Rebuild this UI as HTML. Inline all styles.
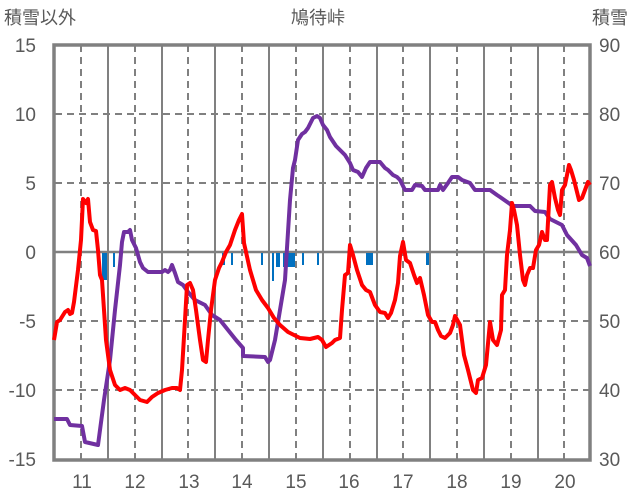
<!DOCTYPE html><html><head><meta charset="utf-8"><style>body{margin:0;background:#fff}svg{display:block}text{font-family:"Liberation Sans","Noto Sans CJK JP",sans-serif;fill:#595959}</style></head><body>
<svg width="636" height="501" viewBox="0 0 636 501">
<g stroke="#808080" stroke-width="2" fill="none">
<g stroke-dasharray="7,5">
<line x1="55" y1="114" x2="590" y2="114"/><line x1="55" y1="183" x2="590" y2="183"/><line x1="55" y1="321" x2="590" y2="321"/><line x1="55" y1="390" x2="590" y2="390"/>
<line x1="81" y1="45" x2="81" y2="459"/><line x1="135" y1="45" x2="135" y2="459"/><line x1="188" y1="45" x2="188" y2="459"/><line x1="242" y1="45" x2="242" y2="459"/><line x1="296" y1="45" x2="296" y2="459"/><line x1="350" y1="45" x2="350" y2="459"/><line x1="403" y1="45" x2="403" y2="459"/><line x1="457" y1="45" x2="457" y2="459"/><line x1="511" y1="45" x2="511" y2="459"/><line x1="564" y1="45" x2="564" y2="459"/>
</g>
<line x1="108" y1="45" x2="108" y2="459"/><line x1="162" y1="45" x2="162" y2="459"/><line x1="215" y1="45" x2="215" y2="459"/><line x1="269" y1="45" x2="269" y2="459"/><line x1="323" y1="45" x2="323" y2="459"/><line x1="377" y1="45" x2="377" y2="459"/><line x1="430" y1="45" x2="430" y2="459"/><line x1="484" y1="45" x2="484" y2="459"/><line x1="538" y1="45" x2="538" y2="459"/>
<line x1="55" y1="252" x2="590" y2="252" stroke-width="2.5"/>
<rect x="54" y="45" width="536" height="415" stroke-width="3.5"/>
</g>
<g fill="#0070c0">
<rect x="102" y="253" width="5" height="27"/><rect x="113" y="253" width="2" height="14"/><rect x="222" y="253" width="3" height="12"/><rect x="231" y="253" width="2" height="12"/><rect x="261" y="253" width="2" height="12"/><rect x="272" y="253" width="2" height="28"/><rect x="276" y="253" width="4" height="14"/><rect x="283" y="253" width="12" height="14"/><rect x="302" y="253" width="2" height="12"/><rect x="317" y="253" width="2" height="12"/><rect x="366" y="253" width="7" height="12"/><rect x="426" y="253" width="3" height="12"/>
</g>
<polyline fill="none" stroke="#7030a0" stroke-width="4" stroke-linejoin="round" points="54,419 67,419 70,425 82,426 85,442 98,445 100,430 104,400 110,360 115,310 120,265 122,242 124,232 128,232 130,230 132,240 136,248 138,255 140,262 143,268 148,272 155,272 162,272 165,270 168,272 170,270 172,265 175,273 178,282 183,285 188,292 195,300 205,305 212,315 220,320 228,330 236,340 243,348 243,356 265,357 268,362 270,360 275,340 280,310 285,280 290,200 293,168 295,160 298,140 302,134 305,132 308,128 313,118 317,116 320,118 323,125 327,130 330,137 336,146 340,150 345,155 350,163 353,170 358,172 362,177 366,168 370,162 380,162 385,168 388,170 393,175 397,177 400,180 405,190 412,190 415,185 422,186 425,190 438,190 440,185 443,190 448,183 452,177 458,177 462,180 470,183 475,190 485,190 490,190 497,195 500,197 510,204 512,206 530,206 535,211 545,212 550,219 562,225 565,231 567,235 576,245 582,255 587,258 590,266"/>
<polyline fill="none" stroke="#ff0000" stroke-width="4" stroke-linejoin="round" points="54,340 57,322 60,320 65,312 68,310 70,314 72,313 74,302 78,270 81,240 83,199 86,203 88,199 90,222 93,230 96,231 98,250 100,275 102,280 106,340 110,370 115,385 120,390 125,388 130,390 135,395 140,400 147,402 152,397 158,393 165,390 172,388 177,388 180,390 182,370 185,320 187,285 190,283 193,290 196,310 200,340 203,360 206,362 208,340 211,310 215,280 219,268 222,262 226,252 230,245 235,230 239,220 242,214 244,243 250,270 256,290 262,300 268,308 274,318 280,325 288,332 300,338 310,339 318,337 322,340 326,347 332,343 335,340 340,338 342,310 345,275 348,273 350,245 353,255 357,270 362,285 366,290 370,292 375,305 380,312 385,313 388,318 391,313 395,300 398,283 400,256 403,242 406,260 410,263 414,275 417,283 420,278 424,295 428,315 432,322 435,322 438,330 441,336 445,338 450,333 453,325 455,316 460,325 464,355 468,370 473,390 476,393 478,380 482,378 486,365 490,322 493,340 497,345 501,330 502,295 505,290 507,255 510,230 512,203 514,210 517,225 520,255 523,280 525,285 527,275 530,268 533,268 536,250 539,245 542,232 545,240 547,240 550,185 552,182 555,198 558,210 560,215 562,190 565,185 567,175 569,165 571,170 574,180 577,192 579,200 582,198 585,190 588,182 590,185"/>
<g font-size="19" text-anchor="end">
<text x="36" y="52">15</text><text x="36" y="121">10</text><text x="36" y="190">5</text><text x="36" y="259">0</text><text x="36" y="328">-5</text><text x="36" y="397">-10</text><text x="36" y="466">-15</text>
</g>
<g font-size="19">
<text x="599" y="52">90</text><text x="599" y="121">80</text><text x="599" y="190">70</text><text x="599" y="259">60</text><text x="599" y="328">50</text><text x="599" y="397">40</text><text x="599" y="466">30</text>
</g>
<g font-size="19" text-anchor="middle">
<text x="82" y="488">11</text><text x="135" y="488">12</text><text x="189" y="488">13</text><text x="242" y="488">14</text><text x="296" y="488">15</text><text x="349" y="488">16</text><text x="403" y="488">17</text><text x="457" y="488">18</text><text x="511" y="488">19</text><text x="565" y="488">20</text>
<text x="318" y="24" font-size="18">鳩待峠</text>
</g>
<text x="4" y="24" font-size="18">積雪以外</text>
<text x="592" y="24" font-size="18">積雪</text>
</svg></body></html>
